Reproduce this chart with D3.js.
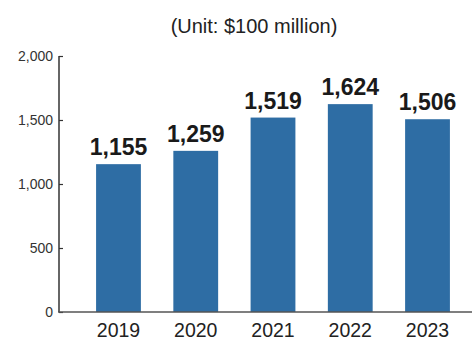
<!DOCTYPE html>
<html>
<head>
<meta charset="utf-8">
<script src="https://cdn.jsdelivr.net/npm/d3@7"></script>
<style>
  body { margin: 0; background: #fff; }
  svg { display: block; font-family: "Liberation Sans", Arial, sans-serif; }
</style>
</head>
<body>
<svg id="chart"></svg>
<script>
const years = ["2019", "2020", "2021", "2022", "2023"];
const values = [1155, 1259, 1519, 1624, 1506];
const yTicks = [0, 500, 1000, 1500, 2000];

const width = 472;
const height = 354;

const svg = d3.select("#chart")
  .attr("width", width)
  .attr("height", height);

const x = d3.scaleBand()
  .domain(years)
  .range([59, 487])
  .paddingInner(0.42)
  .paddingOuter(0.48);

const y = d3.scaleLinear()
  .domain([0, 2000])
  .range([312, 56]);

// unit label
svg.append("text")
  .attr("x", 254)
  .attr("y", 33)
  .attr("text-anchor", "middle")
  .attr("font-size", 20)
  .attr("fill", "#222")
  .text("(Unit: $100 million)");

// bars
svg.selectAll("rect.bar")
  .data(values)
  .join("rect")
  .attr("class", "bar")
  .attr("x", (d, i) => x(years[i]))
  .attr("y", d => y(d))
  .attr("width", x.bandwidth())
  .attr("height", d => y(0) - y(d))
  .attr("fill", "#2e6da4");

// value labels
svg.selectAll("text.val")
  .data(values)
  .join("text")
  .attr("class", "val")
  .attr("x", (d, i) => x(years[i]) + x.bandwidth() / 2)
  .attr("y", d => y(d) - 9)
  .attr("text-anchor", "middle")
  .attr("font-size", 23)
  .attr("font-weight", "bold")
  .attr("fill", "#1a1a1a")
  .text(d => d3.format(",")(d));

// y axis
const yAxis = d3.axisRight(y)
  .tickValues(yTicks)
  .tickSize(4)
  .tickFormat(d3.format(","));

const gy = svg.append("g")
  .attr("transform", "translate(59,0)")
  .call(yAxis);
gy.select(".domain").remove();
gy.selectAll(".tick line").attr("stroke", "#333").attr("stroke-width", 1.2);
gy.selectAll(".tick text")
  .attr("x", -6)
  .attr("text-anchor", "end")
  .attr("font-size", 14)
  .attr("font-family", "Liberation Sans, Arial, sans-serif")
  .attr("fill", "#333");

svg.append("line")
  .attr("x1", 59).attr("x2", 59)
  .attr("y1", y(2000)).attr("y2", y(0))
  .attr("stroke", "#333")
  .attr("stroke-width", 1.5);

// baseline
svg.append("line")
  .attr("x1", 58).attr("x2", width)
  .attr("y1", y(0)).attr("y2", y(0))
  .attr("stroke", "#555")
  .attr("stroke-width", 1.5);

// year labels
svg.selectAll("text.year")
  .data(years)
  .join("text")
  .attr("class", "year")
  .attr("x", d => x(d) + x.bandwidth() / 2)
  .attr("y", 337)
  .attr("text-anchor", "middle")
  .attr("font-size", 19.5)
  .attr("fill", "#222")
  .text(d => d);
</script>
</body>
</html>
